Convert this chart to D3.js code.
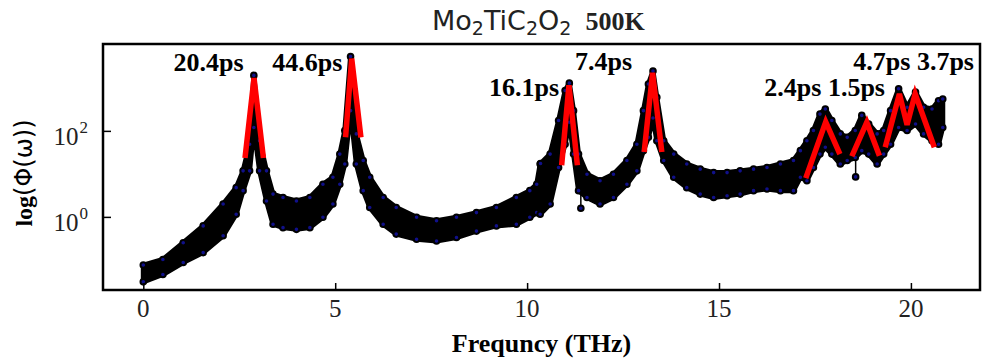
<!DOCTYPE html>
<html>
<head>
<meta charset="utf-8">
<script src="https://cdn.jsdelivr.net/npm/d3@7"></script>
<style>
  body { margin: 0; background: #fff; }
  svg { display: block; }
</style>
</head>
<body>
<div id="chart"></div>
<script>
// spectrum: frequency (THz) and log10 of the upper / lower edge of the noisy band
var freq = [0.00, 0.51, 1.04, 1.56, 2.08, 2.42, 2.60, 2.77, 2.88, 3.03, 3.21, 3.38, 3.64, 3.99, 4.34, 4.68, 4.94,
            5.12, 5.25, 5.40, 5.55, 5.73, 5.90, 6.25, 6.59, 7.12, 7.64, 8.16, 8.68, 9.20, 9.72, 10.07, 10.25,
            10.34, 10.60, 10.82, 10.99, 11.10, 11.21, 11.34, 11.56, 11.90, 12.25, 12.60, 12.86, 13.03, 13.16,
            13.28, 13.38, 13.56, 13.82, 14.16, 14.51, 14.86, 15.21, 15.55, 15.90, 16.25, 16.60, 16.94, 17.12,
            17.29, 17.46, 17.63, 17.77, 17.94, 18.16, 18.34, 18.55, 18.72, 18.90, 19.12, 19.29, 19.47, 19.68,
            19.90, 20.12, 20.33, 20.55, 20.72, 20.83];
var logHi = [-1.12, -0.99, -0.60, -0.21, 0.30, 0.68, 1.07, 1.69, 3.29, 1.77, 1.07, 0.53, 0.45, 0.37, 0.45, 0.76, 0.92,
             1.46, 2.01, 3.73, 1.93, 1.31, 0.92, 0.45, 0.22, -0.01, -0.09, -0.01, 0.10, 0.22, 0.45, 0.61, 0.76,
             1.23, 1.46, 2.24, 2.94, 3.11, 2.47, 1.46, 0.99, 0.84, 0.99, 1.31, 1.69, 2.47, 3.09,
             3.39, 2.78, 1.77, 1.46, 1.23, 1.11, 1.03, 1.03, 1.07, 1.11, 1.15, 1.23, 1.31, 1.54,
             1.77, 2.01, 2.39, 2.51, 2.24, 1.93, 1.85, 2.01, 2.36, 2.16, 1.93, 2.01, 2.47, 2.98,
             2.55, 2.90, 2.55, 2.51, 2.70, 2.74];
var logLo = [-1.51, -1.34, -1.06, -0.83, -0.44, 0.06, 0.61, 1.07, 2.08, 1.07, 0.37, -0.17, -0.25, -0.29, -0.25, -0.01, 0.30,
             0.76, 1.23, 2.47, 1.23, 0.61, 0.22, -0.17, -0.40, -0.52, -0.56, -0.48, -0.33, -0.21, -0.17, -0.01, 0.10,
             0.06, 0.30, 1.15, 1.69, 2.20, 1.46, 0.61, 0.45, 0.30, 0.45, 0.76, 1.07, 1.54, 1.85,
             2.30, 1.77, 1.31, 0.92, 0.68, 0.53, 0.45, 0.49, 0.53, 0.61, 0.65, 0.61, 0.61, 0.92,
             0.84, 1.15, 1.46, 1.62, 1.46, 1.23, 1.31, 1.38, 1.54, 1.46, 1.23, 1.46, 1.69, 2.08,
             2.01, 2.16, 1.93, 1.77, 1.69, 2.08];

// single stray points sticking out of the band: frequency, band edge, point
var strayF    = [10.35, 11.40, 18.56];
var strayBase = [0.76, 0.61, 1.38];
var strayLog  = [1.24, 0.20, 0.93];

// red lorentzian fits (frequency, log10) and their lifetime labels
var fits = [
  [[2.65, 1.37], [2.885, 3.23], [3.13, 1.37]],
  [[5.27, 1.85], [5.43, 3.68], [5.67, 1.85]],
  [[10.90, 1.20], [11.09, 3.06], [11.31, 1.20]],
  [[13.05, 1.51], [13.27, 3.35], [13.51, 1.51]],
  [[17.26, 0.90], [17.78, 2.21], [18.15, 1.46]],
  [[18.46, 1.41], [18.85, 2.20], [19.18, 1.42]],
  [[19.33, 1.62], [19.70, 2.86], [19.90, 2.14], [20.11, 2.86], [20.61, 1.62]]
];
var labelText = ["20.4ps", "44.6ps", "16.1ps", "7.4ps", "2.4ps 1.5ps", "4.7ps 3.7ps"];
var labelF    = [0.79, 3.36, 9.01, 11.25, 16.18, 18.50];
var labelLog  = [3.39, 3.39, 2.80, 3.42, 2.80, 3.42];

var xTicks = [0, 5, 10, 15, 20];
var yTicks = [0, 2];   // exponents

var W = 982, H = 363;
var margin = {top: 44, right: 2, bottom: 73, left: 103};
var width = W - margin.left - margin.right,
    height = H - margin.top - margin.bottom;

var serif = "'Liberation Serif', 'Times New Roman', serif";
var sans  = "'DejaVu Sans', sans-serif";

var svg = d3.select("#chart").append("svg")
    .attr("width", W)
    .attr("height", H);
svg.append("rect").attr("width", W).attr("height", H).attr("fill", "#fff");

var g = svg.append("g")
    .attr("transform", "translate(" + margin.left + "," + margin.top + ")");

var x = d3.scaleLinear().domain([-1.05, 21.8]).range([0, width]);
var y = d3.scaleLog().domain([Math.pow(10, -1.7), Math.pow(10, 4.02)]).range([height, 0]);
function yl(v) { return y(Math.pow(10, v)); }

var band = freq.map(function(f, i) { return {f: f, hi: logHi[i], lo: logLo[i]}; });

// the noisy band
var area = d3.area()
    .x(function(d) { return x(d.f); })
    .y0(function(d) { return yl(d.lo); })
    .y1(function(d) { return yl(d.hi); });
g.append("path")
    .attr("d", area(band))
    .attr("fill", "#000")
    .attr("stroke", "#000")
    .attr("stroke-width", 5)
    .attr("stroke-linejoin", "round");

// stray points with their connecting lines
strayF.forEach(function(f, i) {
  g.append("line")
      .attr("x1", x(f)).attr("x2", x(f))
      .attr("y1", yl(strayBase[i])).attr("y2", yl(strayLog[i]))
      .attr("stroke", "#000").attr("stroke-width", 1.5);
});

// markers along the edges
var pts = [];
band.forEach(function(d) { pts.push([d.f, d.hi]); pts.push([d.f, d.lo]); });
strayF.forEach(function(f, i) { pts.push([f, strayLog[i]]); });
g.selectAll("circle.mk").data(pts).enter().append("circle")
    .attr("class", "mk")
    .attr("cx", function(d) { return x(d[0]); })
    .attr("cy", function(d) { return yl(d[1]); })
    .attr("r", 2.8)
    .attr("fill", "#10108a")
    .attr("stroke", "#000")
    .attr("stroke-width", 2);

// red fits
var fitLine = d3.line()
    .x(function(d) { return x(d[0]); })
    .y(function(d) { return yl(d[1]); });
g.selectAll("path.fit").data(fits).enter().append("path")
    .attr("class", "fit")
    .attr("d", fitLine)
    .attr("fill", "none")
    .attr("stroke", "#ff0000")
    .attr("stroke-width", 5.5);

// labels
labelText.forEach(function(t, i) {
  g.append("text")
      .attr("x", x(labelF[i]))
      .attr("y", yl(labelLog[i]))
      .attr("font-family", serif)
      .attr("font-weight", "bold")
      .attr("font-size", "26px")
      .attr("fill", "#000")
      .text(t);
});

// frame
g.append("rect")
    .attr("width", width).attr("height", height)
    .attr("fill", "none").attr("stroke", "#000").attr("stroke-width", 2.5);

// x axis, ticks inward
g.append("g")
    .attr("transform", "translate(0," + height + ")")
    .call(d3.axisTop(x).tickValues(xTicks).tickSize(7).tickFormat(""))
    .call(function(s) { s.select(".domain").remove(); s.selectAll("line").attr("stroke-width", 1.5); });
g.selectAll("text.xt").data(xTicks).enter().append("text")
    .attr("class", "xt")
    .attr("x", function(d) { return x(d); })
    .attr("y", height + 27)
    .attr("text-anchor", "middle")
    .attr("font-family", serif)
    .attr("font-size", "25px")
    .attr("fill", "#222")
    .text(function(d) { return d; });

// y axis, ticks inward
g.append("g")
    .call(d3.axisRight(y).tickValues(yTicks.map(function(e) { return Math.pow(10, e); })).tickSize(8).tickFormat(""))
    .call(function(s) { s.select(".domain").remove(); s.selectAll("line").attr("stroke-width", 1.5); });
yTicks.forEach(function(e) {
  var t = g.append("text")
      .attr("x", -15)
      .attr("y", yl(e) + 14)
      .attr("text-anchor", "end")
      .attr("font-family", serif)
      .attr("font-size", "25px")
      .attr("fill", "#222");
  t.append("tspan").text("10");
  t.append("tspan").attr("font-size", "17px").attr("dy", -12).attr("dx", 1).text(e);
});

// axis titles
svg.append("text")
    .attr("x", margin.left + width / 2)
    .attr("y", 352)
    .attr("text-anchor", "middle")
    .attr("font-family", serif)
    .attr("font-weight", "bold")
    .attr("font-size", "26px")
    .text("Frequncy (THz)");

var yt = svg.append("text")
    .attr("transform", "translate(32,173) rotate(-90)")
    .attr("text-anchor", "middle")
    .attr("font-size", "24px");
yt.append("tspan").attr("font-family", serif).attr("font-weight", "bold").text("log");
yt.append("tspan").attr("font-family", sans).text("(\u03A6(\u03C9))");

// title
var tt = svg.append("text")
    .attr("x", 432)
    .attr("y", 30)
    .attr("font-family", sans)
    .attr("fill", "#222");
var parts = [["Mo", false], ["2", true], ["TiC", false], ["2", true], ["O", false], ["2", true]];
parts.forEach(function(p) {
  tt.append("tspan")
      .attr("font-size", p[1] ? "19px" : "27px")
      .attr("dy", p[1] ? 5 : (p[0] === "Mo" ? 0 : -5))
      .text(p[0]);
});
tt.append("tspan").attr("dy", -5).attr("dx", 14).attr("font-family", serif).attr("font-weight", "bold")
    .attr("font-size", "26px").text("500K");
</script>
</body>
</html>
